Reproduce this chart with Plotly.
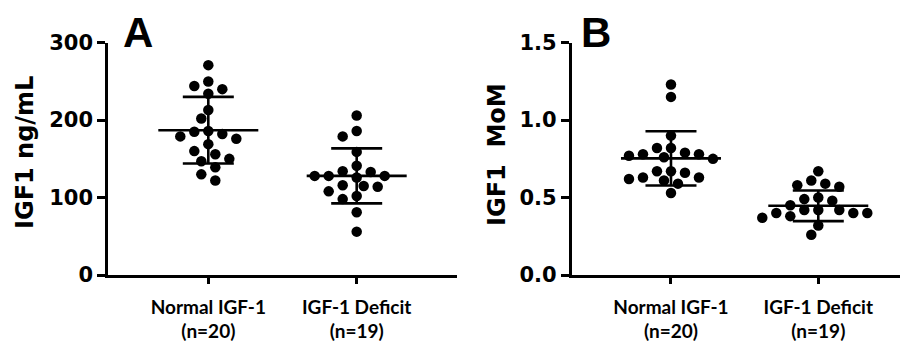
import numpy as np
import plotly.graph_objects as go

# ---------------- data ----------------
categories = ["Normal IGF-1<br>(n=20)", "IGF-1 Deficit<br>(n=19)"]

a_normal = [271, 250, 244, 240, 234, 213, 202, 186, 185, 182,
            179, 176, 169, 160, 156, 150, 147, 139, 130, 122]
a_deficit = [206, 186, 179, 159, 141, 134, 133, 128, 128, 126,
             128, 116, 114, 115, 108, 102, 98, 81, 56]
a_mean = [187, 128]
a_sd = [43, 35.5]

b_normal = [1.23, 1.15, 0.90, 0.82, 0.82, 0.79, 0.78, 0.78, 0.77, 0.76,
            0.75, 0.67, 0.67, 0.66, 0.63, 0.63, 0.62, 0.61, 0.59, 0.53]
b_deficit = [0.67, 0.61, 0.59, 0.58, 0.57, 0.50, 0.49, 0.48, 0.45, 0.42,
             0.42, 0.42, 0.40, 0.40, 0.40, 0.38, 0.37, 0.32, 0.26]
b_mean = [0.753, 0.447]
b_sd = [0.175, 0.099]

a_ticks = [0, 100, 200, 300]
a_tick_labels = ["0", "100", "200", "300"]
b_ticks = [0, 0.5, 1.0, 1.5]
b_tick_labels = ["0.0", "0.5", "1.0", "1.5"]

y_titles = ["IGF1 ng/mL", "IGF1\u00a0 MoM"]
panel_letters = ["A", "B"]

# ---------------- layout geometry (page pixels) ----------------
PAGE_W, PAGE_H = 908, 341
OFF = 8                      # default body margin of the html page
W, H = PAGE_W - OFF, PAGE_H - OFF


def fx(px):
    return (px - OFF) / W


def fy(py):
    return 1 - (py - OFF) / H


xa_px = (108, 457)
xb_px = (571.7, 908)
y_px = (42.7, 275)          # top, bottom of plot area
xa_range = [-0.676, 1.676]
xb_range = [-0.674, 1.609]
ya_range = [0, 300]
yb_range = [0, 1.5]

ydom = [fy(y_px[1]), fy(y_px[0])]
xa_dom = [fx(xa_px[0]), fx(xa_px[1])]
xb_dom = [fx(xb_px[0]), 1.0]


def swarm(values, px_per_unit, px_per_cat, diam=10.8, step=7.0):
    vals = np.asarray(values, dtype=float)
    order = np.argsort(-vals, kind="stable")
    placed = []
    offs = np.zeros(len(vals))
    cands = [0.0]
    for n in range(1, 30):
        cands += [-n * step, n * step]
    for i in order:
        y = vals[i] * px_per_unit
        chosen = cands[-1]
        for c in cands:
            if all((c - px) ** 2 + (y - py) ** 2 >= diam ** 2 for px, py in placed):
                chosen = c
                break
        placed.append((chosen, y))
        offs[i] = chosen / px_per_cat
    return offs


plot_h = y_px[1] - y_px[0]
fig = go.Figure()

panels = [
    dict(groups=[a_normal, a_deficit], mean=a_mean, sd=a_sd, xr=xa_range, yr=ya_range,
         xpx=(xa_px[0], xa_px[1]), xref="x", yref="y"),
    dict(groups=[b_normal, b_deficit], mean=b_mean, sd=b_sd, xr=xb_range, yr=yb_range,
         xpx=(xb_px[0], xb_px[1]), xref="x2", yref="y2"),
]

shapes = []
for p in panels:
    ppu = plot_h / (p["yr"][1] - p["yr"][0])
    ppc = (p["xpx"][1] - p["xpx"][0]) / (p["xr"][1] - p["xr"][0])
    for ci, g in enumerate(p["groups"]):
        offs = swarm(g, ppu, ppc)
        fig.add_trace(go.Scatter(
            x=ci + offs, y=g, mode="markers",
            marker=dict(color="black", size=10.5, line=dict(width=0)),
            xaxis=p["xref"], yaxis=p["yref"], showlegend=False, hoverinfo="skip"))
        m, s = p["mean"][ci], p["sd"][ci]
        lw = 2.6
        mean_half = 50 / ppc
        cap_half = 25.5 / ppc
        shapes.append(dict(type="line", xref=p["xref"], yref=p["yref"],
                           x0=ci - mean_half, x1=ci + mean_half, y0=m, y1=m,
                           line=dict(color="black", width=lw)))
        for yy in (m - s, m + s):
            shapes.append(dict(type="line", xref=p["xref"], yref=p["yref"],
                               x0=ci - cap_half, x1=ci + cap_half, y0=yy, y1=yy,
                               line=dict(color="black", width=lw)))
        shapes.append(dict(type="line", xref=p["xref"], yref=p["yref"],
                           x0=ci, x1=ci, y0=m - s, y1=m + s,
                           line=dict(color="black", width=lw)))

xtick_font = dict(family="Lato, Open Sans, sans-serif", size=19, color="black", weight="bold")
ytick_font = dict(family="DejaVu Sans, sans-serif", size=21, color="black", weight="bold")

common_x = dict(tickvals=[0, 1], ticktext=categories, showline=True, linewidth=2.6,
                linecolor="black", ticks="outside", ticklen=6, tickwidth=2.6,
                tickcolor="black", tickfont=xtick_font, showgrid=False, zeroline=False,
                automargin=False, fixedrange=True, ticklabelstandoff=7)
common_y = dict(showline=True, linewidth=2.6, linecolor="black", ticks="outside",
                ticklen=8, tickwidth=2.6, tickcolor="black", tickfont=ytick_font,
                showgrid=False, zeroline=False, automargin=False, fixedrange=True,
                domain=ydom)

fig.update_layout(
    width=W, height=H, autosize=False,
    margin=dict(l=0, r=0, t=0, b=0),
    paper_bgcolor="white", plot_bgcolor="white",
    xaxis=dict(domain=xa_dom, range=xa_range, anchor="y", **common_x),
    xaxis2=dict(domain=xb_dom, range=xb_range, anchor="y2", **common_x),
    yaxis=dict(range=ya_range, tickvals=a_ticks, ticktext=a_tick_labels, anchor="x", **common_y),
    yaxis2=dict(range=yb_range, tickvals=b_ticks, ticktext=b_tick_labels, anchor="x2", **common_y),
    shapes=shapes,
)

title_font = dict(family="DejaVu Sans, sans-serif", size=24, color="black", weight="bold")
letter_font = dict(family="Liberation Sans, Arial, sans-serif", size=42, color="black", weight="bold")

annotations = [
    dict(text=y_titles[0], x=fx(25), y=fy(153), xref="paper", yref="paper",
         textangle=-90, showarrow=False, xanchor="center", yanchor="middle", font=title_font),
    dict(text=y_titles[1], x=fx(497), y=fy(155), xref="paper", yref="paper",
         textangle=-90, showarrow=False, xanchor="center", yanchor="middle", font=title_font),
    dict(text=panel_letters[0], x=fx(122), y=1.0, xref="paper", yref="paper", borderpad=0,
         showarrow=False, xanchor="left", yanchor="top", font=letter_font),
    dict(text=panel_letters[1], x=fx(580), y=1.0, xref="paper", yref="paper", borderpad=0,
         showarrow=False, xanchor="left", yanchor="top", font=letter_font),
]
fig.update_layout(annotations=annotations)

fig.write_html("out.html")
